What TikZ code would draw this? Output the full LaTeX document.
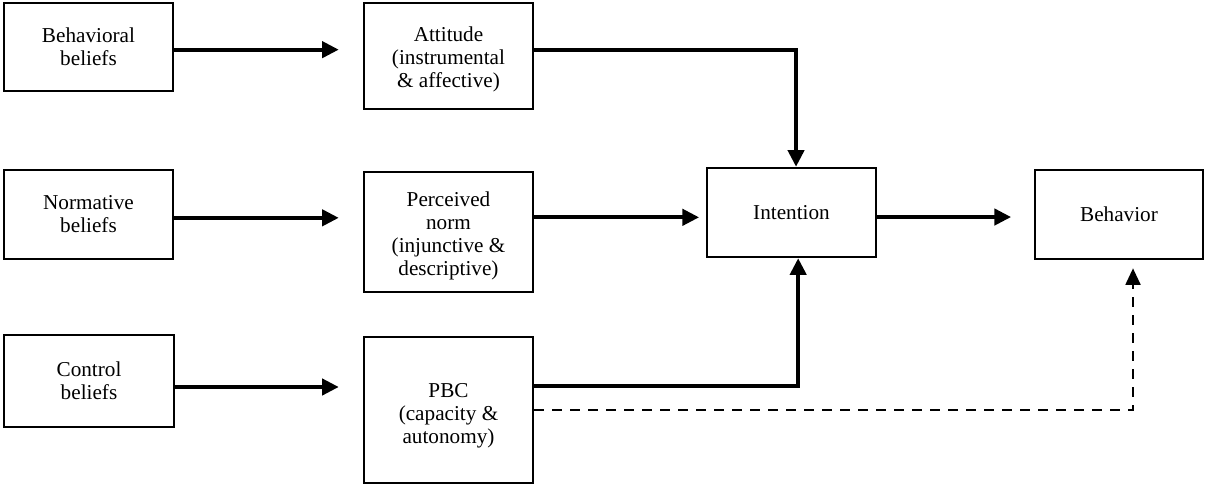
\documentclass[tikz,border=0pt]{standalone}
\usepackage{fontspec}
\setmainfont{Liberation Serif}
\newfontfamily\serf{Liberation Serif}
\usetikzlibrary{arrows.meta}
\begin{document}
\begin{tikzpicture}[x=0.75pt,y=-0.75pt,
  txt/.style={font=\serf\fontsize{15.9}{17.3}\selectfont, align=center, inner sep=0pt},
  box/.style={draw, line width=1.8pt, txt},
  arr/.style={line width=3pt, -{Triangle[length=12.5pt,width=12pt]}},
  darr/.style={line width=2.2pt, dash pattern=on 7.5pt off 6pt,
    -{Triangle[length=12.5pt,width=11pt]}}]
\useasboundingbox (0,0) rectangle (1205,484);
% left column
\node[box, minimum width=126.75pt, minimum height=66pt] (bb) at (88.5,47) {Behavioral\\beliefs};
\node[box, minimum width=126.75pt, minimum height=66.75pt] (nb) at (88.5,214.5) {Normative\\beliefs};
\node[box, minimum width=127.5pt, minimum height=69pt] (cb) at (89,381) {Control\\beliefs};
% middle column
\node[box, minimum width=126.75pt, minimum height=79.5pt] (att) at (448.5,56) {};
\node[box, minimum width=126.75pt, minimum height=90pt] (pn) at (448.5,232) {};
\node[box, minimum width=126.75pt, minimum height=109.5pt] (pbc) at (448.5,410) {};
\node[txt] (attt) at (448.5,59) {Attitude\\(instrumental\\\& affective)};
\node[txt] (pnt) at (448.5,236) {Perceived\\norm\\(injunctive \&\\descriptive)};
\node[txt] (pbct) at (448.5,416) {PBC\\(capacity \&\\autonomy)};
% right
\node[box, minimum width=126.75pt, minimum height=66.75pt] (int) at (791.5,212.5) {Intention};
\node[box, minimum width=126pt, minimum height=66.75pt] (beh) at (1119,214.5) {Behavior};
% arrows
\draw[arr, shorten >=18pt] ([yshift=-2pt]bb.east) -- ([yshift=-2pt]bb.east -| att.west);
\draw[arr, shorten >=18pt] ([yshift=-2.5pt]nb.east) -- ([yshift=-2.5pt]nb.east -| pn.west);
\draw[arr, shorten >=18pt] ([yshift=-4.5pt]cb.east) -- ([yshift=-4.5pt]cb.east -| pbc.west);
\draw[arr] ([yshift=4.5pt]att.east) -| ([xshift=3.4pt]int.north);
\draw[arr, shorten >=5pt] ([yshift=11pt]pn.east) -- ([yshift=11pt]pn.east -| int.west);
\draw[arr] ([yshift=18pt]pbc.east) -| ([xshift=5pt]int.south);
\draw[arr, shorten >=17pt] ([yshift=-3.4pt]int.east) -- ([yshift=-3.4pt]int.east -| beh.west);
\draw[darr, shorten >=6pt] (pbc.east) -| ([xshift=10.5pt]beh.south);
\end{tikzpicture}
\end{document}
